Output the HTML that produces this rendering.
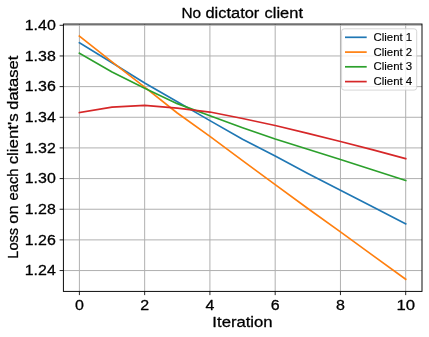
<!DOCTYPE html>
<html><head><meta charset="utf-8"><title>No dictator client</title>
<style>html,body{margin:0;padding:0;background:#fff;overflow:hidden}svg{display:block;will-change:transform}text{font-family:"Liberation Sans",sans-serif;fill:#000;stroke:#000;stroke-width:0.28px;stroke-linejoin:round}</style></head><body>
<svg width="429" height="337" viewBox="0 0 429 337">
<rect x="0" y="0" width="429" height="337" fill="#ffffff"/>
<path d="M79.40 24.05 V291.4 M144.66 24.05 V291.4 M209.92 24.05 V291.4 M275.18 24.05 V291.4 M340.44 24.05 V291.4 M405.70 24.05 V291.4 M63.4 270.55 H422.0 M63.4 239.89 H422.0 M63.4 209.24 H422.0 M63.4 178.58 H422.0 M63.4 147.92 H422.0 M63.4 117.27 H422.0 M63.4 86.61 H422.0 M63.4 55.96 H422.0 M63.4 25.30 H422.0" stroke="#b0b0b0" stroke-width="1" fill="none"/>
<polyline points="79.40,42.77 112.03,62.70 144.66,82.93 177.29,101.79 209.92,120.64 242.55,139.19 275.18,156.05 307.81,173.52 340.44,190.23 373.07,207.09 405.70,223.95" fill="none" stroke="#1f77b4" stroke-width="1.65" stroke-linejoin="round" stroke-linecap="square"/>
<polyline points="79.40,36.03 112.03,61.78 144.66,87.07 177.29,112.98 209.92,136.43 242.55,160.65 275.18,184.71 307.81,208.47 340.44,231.92 373.07,255.68 405.70,279.28" fill="none" stroke="#ff7f0e" stroke-width="1.65" stroke-linejoin="round" stroke-linecap="square"/>
<polyline points="79.40,53.20 112.03,72.05 144.66,88.30 177.29,103.63 209.92,115.74 242.55,127.69 275.18,139.03 307.81,149.30 340.44,159.42 373.07,170.00 405.70,180.42" fill="none" stroke="#2ca02c" stroke-width="1.65" stroke-linejoin="round" stroke-linecap="square"/>
<polyline points="79.40,112.67 112.03,107.15 144.66,105.31 177.29,108.07 209.92,112.06 242.55,118.49 275.18,125.55 307.81,133.36 340.44,141.49 373.07,149.92 405.70,158.65" fill="none" stroke="#d62728" stroke-width="1.65" stroke-linejoin="round" stroke-linecap="square"/>
<rect x="63.4" y="24.05" width="358.60" height="267.35" fill="none" stroke="#000" stroke-width="0.95"/>
<path d="M79.40 291.4 v3.7 M144.66 291.4 v3.7 M209.92 291.4 v3.7 M275.18 291.4 v3.7 M340.44 291.4 v3.7 M405.70 291.4 v3.7 M63.4 270.55 h-3.8 M63.4 239.89 h-3.8 M63.4 209.24 h-3.8 M63.4 178.58 h-3.8 M63.4 147.92 h-3.8 M63.4 117.27 h-3.8 M63.4 86.61 h-3.8 M63.4 55.96 h-3.8 M63.4 25.30 h-3.8" stroke="#000" stroke-width="0.85" fill="none"/>
<text x="74.90" y="309.8" font-size="14.7" textLength="8.9" lengthAdjust="spacingAndGlyphs">0</text>
<text x="140.16" y="309.8" font-size="14.7" textLength="8.9" lengthAdjust="spacingAndGlyphs">2</text>
<text x="205.42" y="309.8" font-size="14.7" textLength="8.9" lengthAdjust="spacingAndGlyphs">4</text>
<text x="270.68" y="309.8" font-size="14.7" textLength="8.9" lengthAdjust="spacingAndGlyphs">6</text>
<text x="335.94" y="309.8" font-size="14.7" textLength="8.9" lengthAdjust="spacingAndGlyphs">8</text>
<text x="396.42" y="309.8" font-size="14.7" textLength="18.61" lengthAdjust="spacingAndGlyphs">10</text>
<text x="24.71" y="275.40" font-size="14.7" textLength="31.06" lengthAdjust="spacingAndGlyphs">1.24</text>
<text x="24.71" y="244.74" font-size="14.7" textLength="31.06" lengthAdjust="spacingAndGlyphs">1.26</text>
<text x="24.71" y="214.09" font-size="14.7" textLength="31.06" lengthAdjust="spacingAndGlyphs">1.28</text>
<text x="24.71" y="183.43" font-size="14.7" textLength="31.06" lengthAdjust="spacingAndGlyphs">1.30</text>
<text x="24.71" y="152.77" font-size="14.7" textLength="31.06" lengthAdjust="spacingAndGlyphs">1.32</text>
<text x="24.71" y="122.12" font-size="14.7" textLength="31.06" lengthAdjust="spacingAndGlyphs">1.34</text>
<text x="24.71" y="91.46" font-size="14.7" textLength="31.06" lengthAdjust="spacingAndGlyphs">1.36</text>
<text x="24.71" y="60.81" font-size="14.7" textLength="31.06" lengthAdjust="spacingAndGlyphs">1.38</text>
<text x="24.71" y="30.15" font-size="14.7" textLength="31.06" lengthAdjust="spacingAndGlyphs">1.40</text>
<text x="181.42" y="17.5" font-size="15.1" textLength="19.66" lengthAdjust="spacingAndGlyphs">No</text>
<text x="205.42" y="17.5" font-size="15.1" textLength="53.95" lengthAdjust="spacingAndGlyphs">dictator</text>
<text x="264.59" y="17.5" font-size="15.1" textLength="38.41" lengthAdjust="spacingAndGlyphs">client</text>
<text x="212.36" y="327.3" font-size="15.1" textLength="60.28" lengthAdjust="spacingAndGlyphs">Iteration</text>
<g transform="translate(18.3 357.8) rotate(-90)">
<text x="99.13" y="0" font-size="15.2" textLength="30.81" lengthAdjust="spacingAndGlyphs">Loss</text>
<text x="134.06" y="0" font-size="15.2" textLength="18.39" lengthAdjust="spacingAndGlyphs">on</text>
<text x="157.38" y="0" font-size="15.2" textLength="31.81" lengthAdjust="spacingAndGlyphs">each</text>
<text x="193.44" y="0" font-size="15.2" textLength="51.07" lengthAdjust="spacingAndGlyphs">client's</text>
<text x="248.03" y="0" font-size="15.2" textLength="54.07" lengthAdjust="spacingAndGlyphs">dataset</text>
</g>
<rect x="341.6" y="28.8" width="75.1" height="61.3" rx="2.6" ry="2.6" fill="#fff" fill-opacity="0.8" stroke="#cccccc" stroke-opacity="0.8" stroke-width="1"/>
<path d="M345 37.3 H366.7" stroke="#1f77b4" stroke-width="1.7" fill="none"/>
<text x="373.49" y="40.75" font-size="10.9" style="stroke-width:0.14px" textLength="38.7" lengthAdjust="spacingAndGlyphs">Client 1</text>
<path d="M345 52.1 H366.7" stroke="#ff7f0e" stroke-width="1.7" fill="none"/>
<text x="373.49" y="55.55" font-size="10.9" style="stroke-width:0.14px" textLength="38.7" lengthAdjust="spacingAndGlyphs">Client 2</text>
<path d="M345 66.8 H366.7" stroke="#2ca02c" stroke-width="1.7" fill="none"/>
<text x="373.49" y="70.25" font-size="10.9" style="stroke-width:0.14px" textLength="38.7" lengthAdjust="spacingAndGlyphs">Client 3</text>
<path d="M345 81.6 H366.7" stroke="#d62728" stroke-width="1.7" fill="none"/>
<text x="373.49" y="85.05" font-size="10.9" style="stroke-width:0.14px" textLength="38.7" lengthAdjust="spacingAndGlyphs">Client 4</text>
</svg></body></html>
